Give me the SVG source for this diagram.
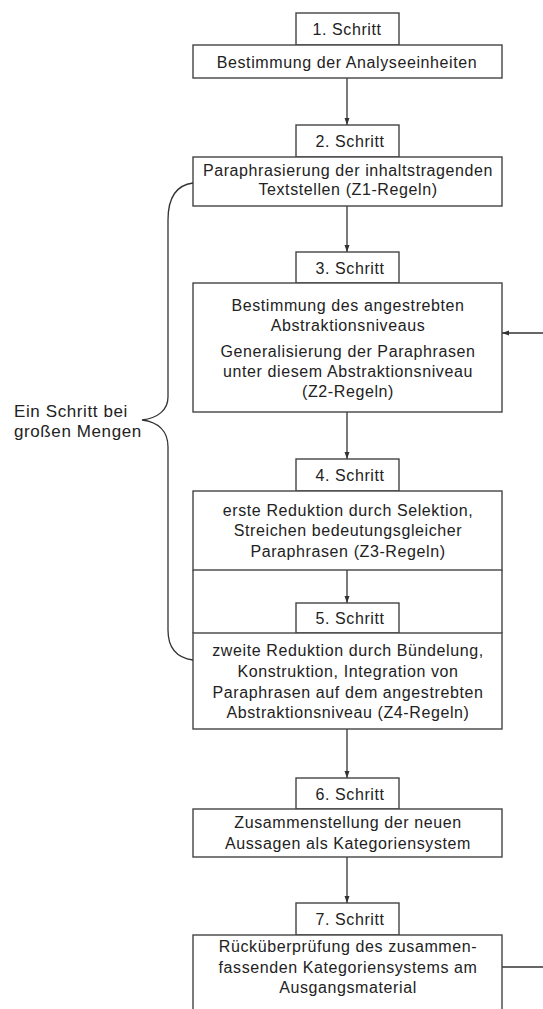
<svg xmlns="http://www.w3.org/2000/svg" width="543" height="1009" viewBox="0 0 543 1009">
<defs>
<style>
.box{fill:#fff;stroke:#444;stroke-width:1.4}
.ln{fill:none;stroke:#333;stroke-width:1.3}
.t{font-family:"Liberation Sans",Arial,sans-serif;font-size:16px;letter-spacing:0.6px;fill:#222;text-anchor:middle}
.lbl{font-family:"Liberation Sans",Arial,sans-serif;font-size:17px;letter-spacing:0.6px;fill:#222}
</style>
<marker id="ah" markerUnits="userSpaceOnUse" markerWidth="8" markerHeight="6" refX="7" refY="3" orient="auto">
<path d="M0,0.5 L7,3 L0,5.5 z" fill="#333"/>
</marker>
</defs>
<rect width="543" height="1009" fill="#fff"/>
<g id="connectors">
<line class="ln" x1="347" y1="78" x2="347" y2="125" marker-end="url(#ah)"/>
<line class="ln" x1="347" y1="206" x2="347" y2="252" marker-end="url(#ah)"/>
<line class="ln" x1="347" y1="412" x2="347" y2="459" marker-end="url(#ah)"/>
<line class="ln" x1="347" y1="570" x2="347" y2="603" marker-end="url(#ah)"/>
<line class="ln" x1="347" y1="729" x2="347" y2="778" marker-end="url(#ah)"/>
<line class="ln" x1="347" y1="857" x2="347" y2="903" marker-end="url(#ah)"/>
<line class="ln" x1="543" y1="333" x2="502" y2="333" marker-end="url(#ah)"/>
<line class="ln" x1="502" y1="967" x2="543" y2="967"/>
<line class="ln" x1="193" y1="570" x2="193" y2="633"/>
<line class="ln" x1="502" y1="570" x2="502" y2="633"/>
</g>
<g id="step1">
<rect class="box" x="296" y="13" width="103" height="32"/>
<text class="t" x="347" y="35">1. Schritt</text>
<rect class="box" x="193" y="45" width="309" height="33"/>
<text class="t" x="347" y="68">Bestimmung der Analyseeinheiten</text>
</g>
<g id="step2">
<rect class="box" x="296" y="125" width="103" height="32"/>
<text class="t" x="350" y="146.5">2. Schritt</text>
<rect class="box" x="193" y="157" width="309" height="49"/>
<text class="t" x="348" y="175.5">Paraphrasierung der inhaltstragenden</text>
<text class="t" x="348" y="195">Textstellen (Z1-Regeln)</text>
</g>
<g id="step3">
<rect class="box" x="296" y="252" width="103" height="31"/>
<text class="t" x="350" y="274">3. Schritt</text>
<rect class="box" x="193" y="283" width="309" height="129"/>
<text class="t" x="348" y="310.5">Bestimmung des angestrebten</text>
<text class="t" x="348" y="330.5">Abstraktionsniveaus</text>
<text class="t" x="348" y="356.5">Generalisierung der Paraphrasen</text>
<text class="t" x="348" y="377">unter diesem Abstraktionsniveau</text>
<text class="t" x="348" y="397">(Z2-Regeln)</text>
</g>
<g id="step4">
<rect class="box" x="296" y="459" width="103" height="32"/>
<text class="t" x="350" y="481">4. Schritt</text>
<rect class="box" x="193" y="491" width="309" height="79"/>
<text class="t" x="348" y="515.5">erste Reduktion durch Selektion,</text>
<text class="t" x="348" y="536">Streichen bedeutungsgleicher</text>
<text class="t" x="348" y="556.5">Paraphrasen (Z3-Regeln)</text>
</g>
<g id="step5">
<rect class="box" x="296" y="603" width="103" height="30"/>
<text class="t" x="350" y="624">5. Schritt</text>
<rect class="box" x="193" y="633" width="309" height="96"/>
<text class="t" x="348" y="656">zweite Reduktion durch Bündelung,</text>
<text class="t" x="348" y="676.5">Konstruktion, Integration von</text>
<text class="t" x="348" y="697.5">Paraphrasen auf dem angestrebten</text>
<text class="t" x="348" y="718">Abstraktionsniveau (Z4-Regeln)</text>
</g>
<g id="step6">
<rect class="box" x="296" y="778" width="103" height="31"/>
<text class="t" x="350" y="800">6. Schritt</text>
<rect class="box" x="193" y="809" width="309" height="48"/>
<text class="t" x="348" y="827.5">Zusammenstellung der neuen</text>
<text class="t" x="348" y="848.5">Aussagen als Kategoriensystem</text>
</g>
<g id="step7">
<rect class="box" x="296" y="903" width="103" height="32"/>
<text class="t" x="350" y="925">7. Schritt</text>
<rect class="box" x="193" y="935" width="309" height="85"/>
<text class="t" x="348" y="952">Rücküberprüfung des zusammen-</text>
<text class="t" x="348" y="972.5">fassenden Kategoriensystems am</text>
<text class="t" x="348" y="993">Ausgangsmaterial</text>
</g>
<g id="brace">
<path class="ln" d="M193,183 C177,185 168,197 168,220 L168,397 C168,410 158,418 142,420 C158,422 168,431 168,447 L168,630 C168,650 178,658 193,660"/>
<text class="lbl" x="14" y="417">Ein Schritt bei</text>
<text class="lbl" x="14" y="437">großen Mengen</text>
</g>
</svg>
